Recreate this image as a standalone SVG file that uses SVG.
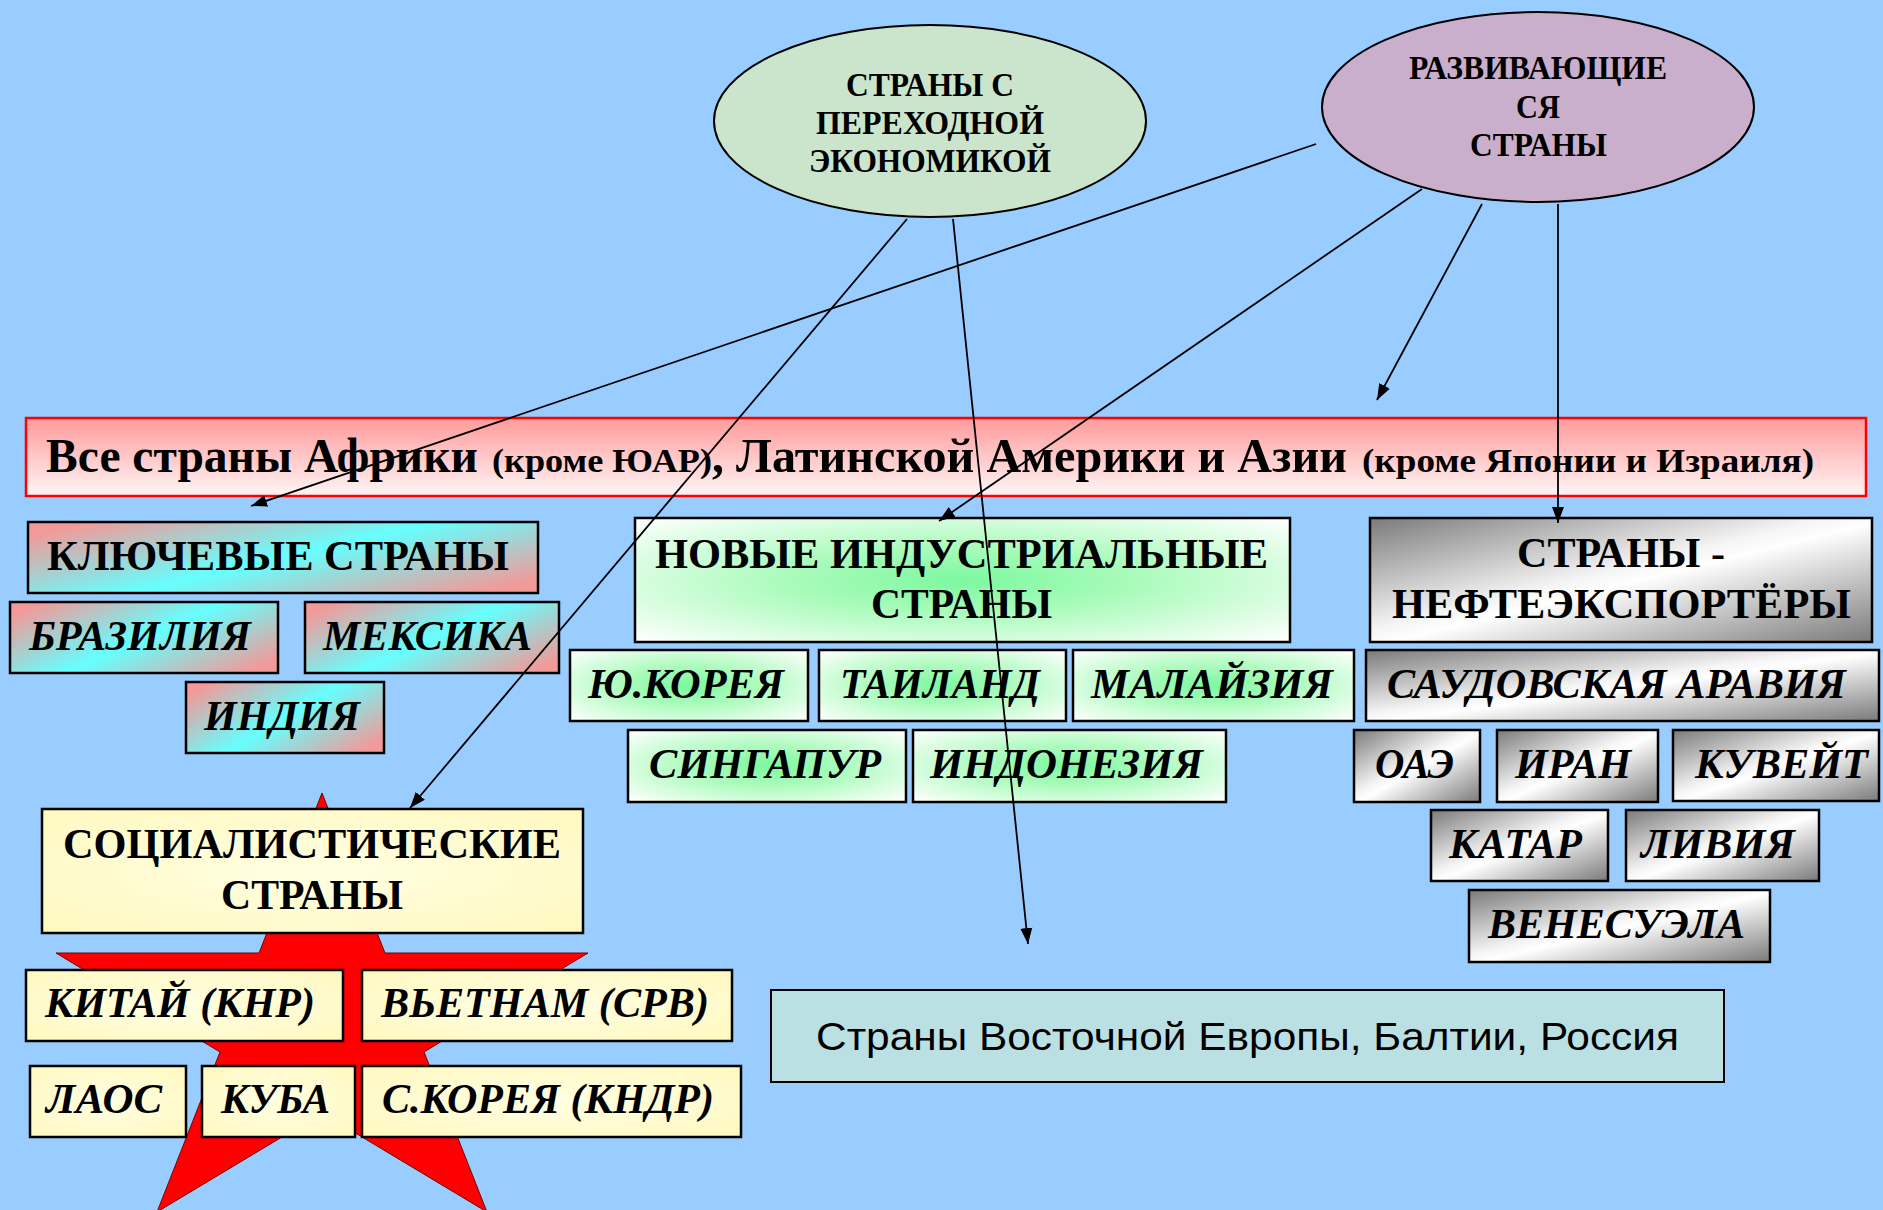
<svg xmlns="http://www.w3.org/2000/svg" width="1883" height="1210" viewBox="0 0 1883 1210">
<defs>
<linearGradient id="gBanner" x1="0" y1="0" x2="0" y2="1">
<stop offset="0" stop-color="#FF9A9A"/><stop offset="1" stop-color="#FFF6F6"/>
</linearGradient>
<linearGradient id="gKey" x1="0" y1="0.2" x2="1" y2="0.8">
<stop offset="0" stop-color="#F29A9A"/><stop offset="0.5" stop-color="#66FFFF"/><stop offset="1" stop-color="#F29A9A"/>
</linearGradient>
<radialGradient id="gGreen" cx="0.5" cy="0.5" r="0.7">
<stop offset="0" stop-color="#7CF8A0"/><stop offset="0.35" stop-color="#A6FBB8"/><stop offset="1" stop-color="#FFFFFF"/>
</radialGradient>
<linearGradient id="gGray" x1="0" y1="0" x2="1" y2="1">
<stop offset="0" stop-color="#7A7A7A"/><stop offset="0.45" stop-color="#F4F4F4"/><stop offset="0.52" stop-color="#FFFFFF"/><stop offset="1" stop-color="#7A7A7A"/>
</linearGradient>
<radialGradient id="gYellow" cx="0.5" cy="0.5" r="0.7">
<stop offset="0" stop-color="#FFFFE2"/><stop offset="1" stop-color="#FFF8C0"/>
</radialGradient>
<marker id="arr" markerUnits="userSpaceOnUse" markerWidth="18" markerHeight="14" refX="16" refY="7" orient="auto">
<path d="M0,1 L16,7 L0,13 z" fill="#000"/>
</marker>
<style>
.box{stroke:#000;stroke-width:2.5}
.t{font-family:"Liberation Serif","Times New Roman",serif;font-weight:bold;fill:#000}
.i{font-style:italic}
.el{stroke:#000;stroke-width:2}
.c{fill:none;stroke:#000;stroke-width:1.8;marker-end:url(#arr)}
</style>
</defs>
<rect x="0" y="0" width="1883" height="1210" fill="#99CCFF"/>

<g id="ellipse-transition">
<ellipse class="el" cx="930" cy="121" rx="216" ry="96" fill="#CAE5CC"/>
<text class="t" x="846" y="96" font-size="34" textLength="168" lengthAdjust="spacingAndGlyphs">СТРАНЫ С</text>
<text class="t" x="816" y="134" font-size="34" textLength="228" lengthAdjust="spacingAndGlyphs">ПЕРЕХОДНОЙ</text>
<text class="t" x="809" y="172" font-size="34" textLength="242" lengthAdjust="spacingAndGlyphs">ЭКОНОМИКОЙ</text>
</g>

<g id="ellipse-developing">
<ellipse class="el" cx="1538" cy="107" rx="216" ry="95" fill="#C9AFCB"/>
<text class="t" x="1409" y="79" font-size="34" textLength="258" lengthAdjust="spacingAndGlyphs">РАЗВИВАЮЩИЕ</text>
<text class="t" x="1516" y="118" font-size="34" textLength="44" lengthAdjust="spacingAndGlyphs">СЯ</text>
<text class="t" x="1470" y="156" font-size="34" textLength="137" lengthAdjust="spacingAndGlyphs">СТРАНЫ</text>
</g>

<g id="banner">
<rect x="26" y="418" width="1840" height="78" fill="url(#gBanner)" stroke="#FF0000" stroke-width="2.5"/>
<text class="t" x="46" y="472" font-size="48" textLength="432" lengthAdjust="spacingAndGlyphs">Все страны Африки</text>
<text class="t" x="492" y="472" font-size="33" textLength="220" lengthAdjust="spacingAndGlyphs">(кроме ЮАР)</text>
<text class="t" x="712" y="472" font-size="48" textLength="635" lengthAdjust="spacingAndGlyphs">, Латинской Америки и Азии</text>
<text class="t" x="1362" y="472" font-size="33" textLength="452" lengthAdjust="spacingAndGlyphs">(кроме Японии и Израиля)</text>
</g>

<g id="key-countries">
<rect class="box" x="28" y="522" width="510" height="71" fill="url(#gKey)"/>
<text class="t" x="47" y="570" font-size="42" textLength="462" lengthAdjust="spacingAndGlyphs">КЛЮЧЕВЫЕ СТРАНЫ</text>
</g>
<g id="brazil">
<rect class="box" x="10" y="602" width="268" height="71" fill="url(#gKey)"/>
<text class="t i" x="29" y="650" font-size="42" textLength="222" lengthAdjust="spacingAndGlyphs">БРАЗИЛИЯ</text>
</g>
<g id="mexico">
<rect class="box" x="305" y="602" width="254" height="71" fill="url(#gKey)"/>
<text class="t i" x="323" y="650" font-size="42" textLength="209" lengthAdjust="spacingAndGlyphs">МЕКСИКА</text>
</g>
<g id="india">
<rect class="box" x="186" y="682" width="198" height="71" fill="url(#gKey)"/>
<text class="t i" x="204" y="730" font-size="42" textLength="156" lengthAdjust="spacingAndGlyphs">ИНДИЯ</text>
</g>

<g id="nic">
<rect class="box" x="635" y="518" width="655" height="124" fill="url(#gGreen)"/>
<text class="t" x="655" y="568" font-size="42" textLength="613" lengthAdjust="spacingAndGlyphs">НОВЫЕ ИНДУСТРИАЛЬНЫЕ</text>
<text class="t" x="871" y="618" font-size="42" textLength="181" lengthAdjust="spacingAndGlyphs">СТРАНЫ</text>
</g>
<g id="s-korea">
<rect class="box" x="570" y="650" width="238" height="71" fill="url(#gGreen)"/>
<text class="t i" x="588" y="698" font-size="42" textLength="196" lengthAdjust="spacingAndGlyphs">Ю.КОРЕЯ</text>
</g>
<g id="thailand">
<rect class="box" x="819" y="650" width="247" height="71" fill="url(#gGreen)"/>
<text class="t i" x="840" y="698" font-size="42" textLength="200" lengthAdjust="spacingAndGlyphs">ТАИЛАНД</text>
</g>
<g id="malaysia">
<rect class="box" x="1073" y="650" width="281" height="71" fill="url(#gGreen)"/>
<text class="t i" x="1091" y="698" font-size="42" textLength="242" lengthAdjust="spacingAndGlyphs">МАЛАЙЗИЯ</text>
</g>
<g id="singapore">
<rect class="box" x="628" y="730" width="278" height="72" fill="url(#gGreen)"/>
<text class="t i" x="649" y="778" font-size="42" textLength="232" lengthAdjust="spacingAndGlyphs">СИНГАПУР</text>
</g>
<g id="indonesia">
<rect class="box" x="913" y="730" width="313" height="72" fill="url(#gGreen)"/>
<text class="t i" x="930" y="778" font-size="42" textLength="273" lengthAdjust="spacingAndGlyphs">ИНДОНЕЗИЯ</text>
</g>

<g id="oil">
<rect class="box" x="1370" y="518" width="502" height="124" fill="url(#gGray)"/>
<text class="t" x="1517" y="567" font-size="42" textLength="208" lengthAdjust="spacingAndGlyphs">СТРАНЫ -</text>
<text class="t" x="1392" y="618" font-size="42" textLength="459" lengthAdjust="spacingAndGlyphs">НЕФТЕЭКСПОРТЁРЫ</text>
</g>
<g id="saudi">
<rect class="box" x="1366" y="650" width="513" height="71" fill="url(#gGray)"/>
<text class="t i" x="1387" y="698" font-size="42" textLength="459" lengthAdjust="spacingAndGlyphs">САУДОВСКАЯ АРАВИЯ</text>
</g>
<g id="uae">
<rect class="box" x="1354" y="730" width="126" height="72" fill="url(#gGray)"/>
<text class="t i" x="1375" y="778" font-size="42" textLength="79" lengthAdjust="spacingAndGlyphs">ОАЭ</text>
</g>
<g id="iran">
<rect class="box" x="1497" y="730" width="161" height="72" fill="url(#gGray)"/>
<text class="t i" x="1515" y="778" font-size="42" textLength="116" lengthAdjust="spacingAndGlyphs">ИРАН</text>
</g>
<g id="kuwait">
<rect class="box" x="1673" y="730" width="206" height="71" fill="url(#gGray)"/>
<text class="t i" x="1695" y="778" font-size="42" textLength="173" lengthAdjust="spacingAndGlyphs">КУВЕЙТ</text>
</g>
<g id="qatar">
<rect class="box" x="1431" y="810" width="177" height="71" fill="url(#gGray)"/>
<text class="t i" x="1449" y="858" font-size="42" textLength="133" lengthAdjust="spacingAndGlyphs">КАТАР</text>
</g>
<g id="libya">
<rect class="box" x="1626" y="810" width="193" height="71" fill="url(#gGray)"/>
<text class="t i" x="1641" y="858" font-size="42" textLength="154" lengthAdjust="spacingAndGlyphs">ЛИВИЯ</text>
</g>
<g id="venezuela">
<rect class="box" x="1469" y="890" width="301" height="72" fill="url(#gGray)"/>
<text class="t i" x="1488" y="938" font-size="42" textLength="257" lengthAdjust="spacingAndGlyphs">ВЕНЕСУЭЛА</text>
</g>

<polygon id="star" points="322,793 385,953 588,953 424,1052 487,1212 322,1113 157,1212 220,1052 56,953 259,953" fill="#FF0000" stroke="#7A0000" stroke-width="1"/>

<g id="socialist">
<rect class="box" x="42" y="809" width="541" height="124" fill="url(#gYellow)"/>
<text class="t" x="63" y="858" font-size="42" textLength="498" lengthAdjust="spacingAndGlyphs">СОЦИАЛИСТИЧЕСКИЕ</text>
<text class="t" x="221" y="909" font-size="42" textLength="182" lengthAdjust="spacingAndGlyphs">СТРАНЫ</text>
</g>
<g id="china">
<rect class="box" x="26" y="970" width="317" height="71" fill="url(#gYellow)"/>
<text class="t i" x="45" y="1017" font-size="42" textLength="270" lengthAdjust="spacingAndGlyphs">КИТАЙ (КНР)</text>
</g>
<g id="vietnam">
<rect class="box" x="362" y="970" width="370" height="71" fill="url(#gYellow)"/>
<text class="t i" x="381" y="1017" font-size="42" textLength="328" lengthAdjust="spacingAndGlyphs">ВЬЕТНАМ (СРВ)</text>
</g>
<g id="laos">
<rect class="box" x="30" y="1066" width="156" height="71" fill="url(#gYellow)"/>
<text class="t i" x="46" y="1113" font-size="42" textLength="116" lengthAdjust="spacingAndGlyphs">ЛАОС</text>
</g>
<g id="cuba">
<rect class="box" x="202" y="1066" width="153" height="71" fill="url(#gYellow)"/>
<text class="t i" x="221" y="1113" font-size="42" textLength="109" lengthAdjust="spacingAndGlyphs">КУБА</text>
</g>
<g id="n-korea">
<rect class="box" x="362" y="1066" width="379" height="71" fill="url(#gYellow)"/>
<text class="t i" x="382" y="1113" font-size="42" textLength="332" lengthAdjust="spacingAndGlyphs">С.КОРЕЯ (КНДР)</text>
</g>

<g id="eastern-europe">
<rect x="771" y="990" width="953" height="92" fill="#BAE0E4" stroke="#000" stroke-width="2"/>
<text x="816" y="1050" font-family="'Liberation Sans', Arial, sans-serif" font-size="39" fill="#000" textLength="863" lengthAdjust="spacingAndGlyphs">Страны Восточной Европы, Балтии, Россия</text>
</g>

<g id="connectors">
<line class="c" x1="1316" y1="144" x2="251" y2="506"/>
<line class="c" x1="1422" y1="189" x2="939" y2="521"/>
<line class="c" x1="1482" y1="204" x2="1377" y2="400"/>
<line class="c" x1="1558" y1="204" x2="1558" y2="523"/>
<line class="c" x1="907" y1="219" x2="410" y2="808"/>
<line class="c" x1="953" y1="219" x2="1028" y2="944"/>
</g>
</svg>
